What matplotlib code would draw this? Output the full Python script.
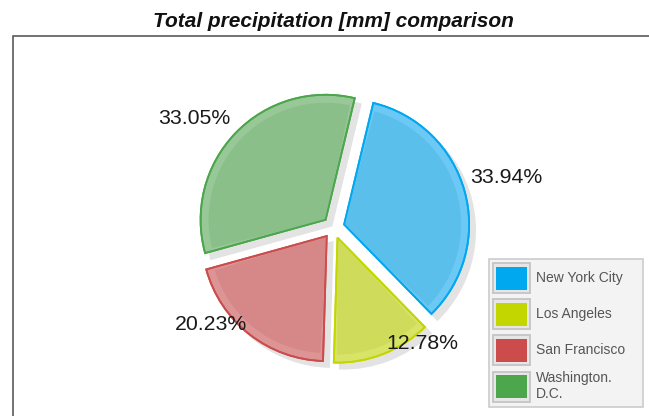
import textwrap
import matplotlib
matplotlib.use("Agg")
import matplotlib.pyplot as plt
from matplotlib.patches import Rectangle, Wedge

# ---------------- data ----------------
title = "Total precipitation [mm] comparison"
categories = ["New York City", "Los Angeles", "San Francisco", "Washington. D.C."]
share_pct = [33.94, 12.78, 20.23, 33.05]

# ---------------- styles ----------------
edge_colors = ["#00a8f0", "#c4d600", "#cc4b4b", "#4ca64c"]
fill_colors = ["#5bbfeb", "#cfdc5b", "#d68787", "#8abf8a"]
band_colors = ["#6cc8f4", "#d8e468", "#dc9494", "#98c898"]

plt.rcParams["font.family"] = ["Liberation Sans", "DejaVu Sans"]

W, H = 649, 416
fig = plt.figure(figsize=(W / 100, H / 100), dpi=100)
ax = fig.add_axes([0, 0, 1, 1])

# layout (pixel units, y up)
pie_center = (333.5, 188.6)
pie_radius = 125
explode_px = 11
label_offsets = [(172.5, 49.7), (88.5, -115.9), (-122.0, -96.6), (-139.5, 109.1)]

wedges, texts, autotexts = ax.pie(
    share_pct,
    colors=fill_colors,
    explode=[explode_px] * len(share_pct),
    startangle=76.5,
    counterclock=False,
    center=pie_center,
    radius=pie_radius,
    autopct="%.2f%%",
    shadow={"ox": 4.3, "oy": -4.3, "facecolor": "#e3e3e3",
            "edgecolor": "#e3e3e3", "alpha": 1.0},
    wedgeprops={"linewidth": 1.3},
    textprops={"fontsize": 15.3, "color": "#1a1a1a"},
)

for w, ec, band, fill in zip(wedges, edge_colors, band_colors, fill_colors):
    w.set_edgecolor(ec)
    w.set_facecolor(band)
    w.set_zorder(2)
    inner = Wedge(w.center, w.r - 8, w.theta1 + 1.5, w.theta2 - 1.5,
                  facecolor=fill, edgecolor="none", zorder=2.5)
    ax.add_patch(inner)
    outline = Wedge(w.center, w.r, w.theta1, w.theta2, facecolor="none",
                    edgecolor=ec, linewidth=1.3, zorder=3)
    ax.add_patch(outline)

for t, (dx, dy) in zip(autotexts, label_offsets):
    t.set_position((pie_center[0] + dx, pie_center[1] + dy))
    t.set_ha("center")
    t.set_va("center")
    t.set_zorder(5)

ax.set_xlim(0, W)
ax.set_ylim(0, H)
ax.set_aspect("auto")
ax.axis("off")

# outer frame (top & left visible)
frame_x, frame_top = 12.7, H - 35.8
ax.plot([frame_x, frame_x, W + 5], [-5, frame_top, frame_top],
        color="#5a5a5a", linewidth=1.2, solid_joinstyle="miter", zorder=1,
        clip_on=False)

# title
ax.text(333.5, H - 27, title, ha="center", va="baseline", fontsize=15,
        fontweight="bold", fontstyle="italic", color="#111111")

# legend
leg_x0, leg_x1 = 488.5, 642.5
leg_top, leg_bot = H - 259.3, H - 406.7
ax.add_patch(Rectangle((leg_x0, leg_bot), leg_x1 - leg_x0, leg_top - leg_bot,
                       facecolor="#f3f3f3", edgecolor="#cccccc", linewidth=1.2,
                       zorder=6))
row_centers = [278.3, 314.3, 350.0, 386.7]
for name, col, yc in zip(categories, edge_colors, row_centers):
    y = H - yc
    ax.add_patch(Rectangle((492.5, y - 15), 37.5, 30, facecolor="#e6e6e6",
                           edgecolor="#c4c4c4", linewidth=1.3, zorder=7))
    ax.add_patch(Rectangle((495.8, y - 11.5), 31, 23, facecolor=col,
                           edgecolor="none", zorder=8))
    ax.text(536, y + 0.5, textwrap.fill(name, 13), ha="left", va="center",
            fontsize=10, color="#555555", linespacing=1.2, zorder=9)

fig.savefig("out.png", dpi=100)
